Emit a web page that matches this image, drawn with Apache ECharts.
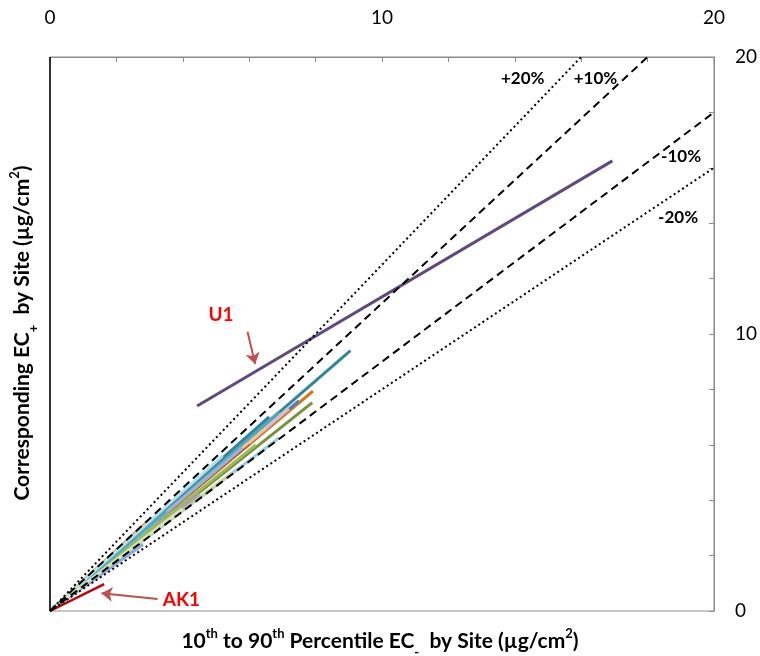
<!DOCTYPE html>
<html>
<head>
<meta charset="utf-8">
<script src="https://cdn.jsdelivr.net/npm/echarts@6/dist/echarts.min.js"></script>
<style>
  html, body { margin: 0; padding: 0; background: #fff; }
  #main { width: 760px; height: 656px; }
</style>
</head>
<body>
<div id="main"></div>
<script>
// 各站点的线段终点（起点都是原点）
var siteEndX = [9.05, 7.92, 7.90, 7.50, 7.20, 6.90, 6.60, 6.90, 6.00, 6.50, 5.50, 4.50, 5.80, 2.80, 3.00, 6.20, 3.50, 5.20, 4.00];
var siteEndY = [9.40, 7.94, 7.52, 7.59, 7.30, 7.19, 7.01, 6.25, 6.05, 6.60, 5.00, 4.20, 5.90, 2.40, 3.30, 6.00, 3.60, 5.60, 3.70];
var sitePalette = ['#31859C', '#E46C0A', '#77933C', '#4F81BD', '#E6B9B8', '#4BACC6', '#31859C', '#93CDDD',
                   '#953735', '#FAC090', '#C3D69B', '#B3A2C7', '#95B3D7', '#8EA9DB', '#F79646', '#9BBB59', '#4BACC6',
                   '#B7DEE8', '#D7E4BD'];

// U1 和 AK1
var u1X = [4.43, 16.94];
var u1Y = [7.40, 16.25];
var ak1X = [0, 1.63];
var ak1Y = [0, 0.97];

// 比例线（±10%、±20%）终点
var bandNames = ['+20%', '+10%', '-10%', '-20%'];
var bandEndX = [16, 18, 20, 20];
var bandEndY = [20, 20, 18, 16];
var bandLabelX = [14.24, 16.43, 19.01, 18.92];
var bandLabelY = [19.24, 19.24, 16.39, 14.19];

// 标注箭头
var noteNames = ['U1', 'AK1'];
var noteLabelX = [5.15, 3.96];
var noteLabelY = [10.69, 0.40];
var arrowFrom = [[5.95, 10.08], [3.24, 0.43]];
var arrowTo = [[6.18, 8.92], [1.55, 0.64]];

// 坐标轴刻度
var axisMin = 0, axisMax = 20, tickStep = 2, labelStep = 10;

var series = [];
for (var i = 0; i < siteEndX.length; i++) {
	series.push({
		type: 'line',
		symbol: 'none',
		silent: true,
		z: 2,
		data: [[0, 0], [siteEndX[i], siteEndY[i]]],
		lineStyle: { color: sitePalette[i], width: 3 }
	});
}
series.push({
	name: 'U1', type: 'line', symbol: 'none', silent: true, z: 2,
	data: [[u1X[0], u1Y[0]], [u1X[1], u1Y[1]]],
	lineStyle: { color: '#604A7B', width: 3 }
});
series.push({
	name: 'AK1', type: 'line', symbol: 'none', silent: true, z: 2,
	data: [[ak1X[0], ak1Y[0]], [ak1X[1], ak1Y[1]]],
	lineStyle: { color: '#C00000', width: 2.5 },
	// 左边的黑色竖线（x = 0）
	markLine: {
		silent: true, symbol: 'none', label: { show: false },
		lineStyle: { color: '#000', width: 1.5, type: 'solid' },
		data: [{ xAxis: 0 }]
	}
});
// 虚线/点线
for (var j = 0; j < bandNames.length; j++) {
	var dotted = bandNames[j].indexOf('20') > -1;
	series.push({
		type: 'line', symbol: 'none', silent: true, z: 4,
		data: [[0, 0], [bandEndX[j], bandEndY[j]]],
		lineStyle: { color: '#000', width: 2, type: dotted ? [2, 3] : [8, 5] }
	});
}
// 百分比文字
var bandText = [];
for (var k = 0; k < bandNames.length; k++) {
	bandText.push({ name: bandNames[k], value: [bandLabelX[k], bandLabelY[k]] });
}
series.push({
	type: 'scatter', symbolSize: 0, silent: true, z: 5,
	itemStyle: { opacity: 1 },
	data: bandText,
	label: {
		show: true, position: 'inside',
		formatter: function (p) { return p.name; },
		color: '#000', fontFamily: 'Lato', fontWeight: 'bold', fontSize: 17
	}
});
// U1 / AK1 文字和箭头
var noteText = [];
var arrows = [];
for (var n = 0; n < noteNames.length; n++) {
	noteText.push({ name: noteNames[n], value: [noteLabelX[n], noteLabelY[n]] });
	arrows.push([{ coord: arrowFrom[n] }, { coord: arrowTo[n] }]);
}
series.push({
	type: 'scatter', symbolSize: 0, silent: true, z: 5,
	itemStyle: { opacity: 1 },
	data: noteText,
	label: {
		show: true, position: 'inside',
		formatter: function (p) { return p.name; },
		color: '#FF0000', fontFamily: 'Lato', fontWeight: 'bold', fontSize: 19
	},
	markLine: {
		silent: true,
		symbol: ['none', 'arrow'],
		symbolSize: 11,
		label: { show: false },
		lineStyle: { color: '#C0504D', width: 2, type: 'solid' },
		data: arrows
	}
});

function onlyMain(v) {
	return v % labelStep === 0 ? String(v) : '';
}

var richTitle = {
	n: { fontFamily: 'Lato', fontWeight: 'bold', fontSize: 21, lineHeight: 26, verticalAlign: 'bottom' },
	p: { fontFamily: 'Lato', fontWeight: 'bold', fontSize: 13, lineHeight: 26, verticalAlign: 'top', padding: [1, 0, 0, 0] },
	b: { fontFamily: 'Lato', fontWeight: 'bold', fontSize: 13, lineHeight: 26, verticalAlign: 'bottom', padding: [0, 0, -7, 0] }
};

var option = {
	animation: false,
	grid: { left: 50, right: 43, top: 57, bottom: 45, show: true, borderColor: '#8c8c8c', borderWidth: 1 },
	xAxis: {
		type: 'value', position: 'top', min: axisMin, max: axisMax, interval: tickStep,
		axisLine: { show: true, onZero: false, lineStyle: { color: '#8c8c8c', width: 1 } },
		axisTick: { show: true, inside: true, length: 5, lineStyle: { color: '#8c8c8c' } },
		axisLabel: { formatter: onlyMain, margin: 30, color: '#000', fontFamily: 'Lato', fontSize: 19 },
		splitLine: { show: false }
	},
	yAxis: {
		type: 'value', position: 'right', min: axisMin, max: axisMax, interval: tickStep,
		axisLine: { show: true, onZero: false, lineStyle: { color: '#8c8c8c', width: 1 } },
		axisTick: { show: true, inside: true, length: 5, lineStyle: { color: '#8c8c8c' } },
		axisLabel: { formatter: onlyMain, margin: 21, color: '#000', fontFamily: 'Lato', fontSize: 19 },
		splitLine: { show: false }
	},
	graphic: [
		{
			type: 'text', left: 'center', top: 626,
			style: {
				text: '{n|10}{p|th}{n| to 90}{p|th}{n| Percentile EC}{b|-}{n|  by Site (µg/cm}{p|2}{n|)}',
				fill: '#000',
				rich: richTitle
			}
		},
		{
			type: 'text', x: 20, y: 333, rotation: Math.PI / 2,
			style: {
				text: '{n|Corresponding EC}{b|+}{n|  by Site (µg/cm}{p|2}{n|)}',
				fill: '#000', align: 'center', verticalAlign: 'middle',
				rich: richTitle
			}
		}
	],
	series: series
};

var myChart = echarts.init(document.getElementById('main'));
myChart.setOption(option);
</script>
</body>
</html>
